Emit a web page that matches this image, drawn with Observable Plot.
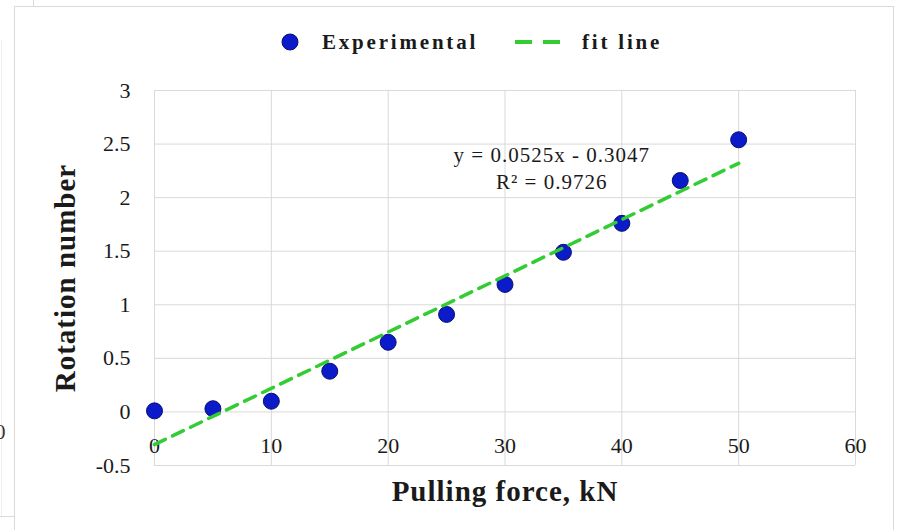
<!DOCTYPE html>
<html>
<head>
<meta charset="utf-8">
<script src="https://cdn.jsdelivr.net/npm/d3@7"></script>
<script src="https://cdn.jsdelivr.net/npm/@observablehq/plot@0.6"></script>
<style>
  html, body { margin: 0; padding: 0; background: #fff; }
  #wrap { position: relative; width: 897px; height: 530px; overflow: hidden; font-family: "Liberation Serif", "Times New Roman", serif; color: #1a1a1a; }
  .deco { position: absolute; background: #d9d9d9; }
  #legend { position: absolute; left: 0; top: 0; width: 897px; height: 70px; }
  #legend .item { position: absolute; top: 42px; transform: translateY(-50%); font-weight: bold; font-size: 21px; letter-spacing: 2.8px; white-space: nowrap; }
  #chart { position: absolute; left: 0; top: 70px; }
</style>
</head>
<body>
<div id="wrap">
  <div class="deco" style="left:14px; top:6px; width:879px; height:1px;"></div>
  <div class="deco" style="left:14px; top:6px; width:1px; height:530px;"></div>
  <div class="deco" style="left:893px; top:6px; width:1px; height:530px;"></div>
  <div class="deco" style="left:33px; top:0px; width:1px; height:6px;"></div>
  <div class="deco" style="left:1px; top:40px; width:1px; height:476px; background:#eeeeee;"></div>
  <div class="deco" style="left:0px; top:516px; width:14px; height:1px;"></div>
  <span style="position:absolute; left:-5px; top:420px; font-size:21px; color:#333;">0</span>
  <div id="legend"></div>
  <div id="chart"></div>
</div>
<script>
// Data
const forceKN = [0, 5, 10, 15, 20, 25, 30, 35, 40, 45, 50];
const rotation = [0.01, 0.03, 0.10, 0.38, 0.65, 0.91, 1.19, 1.49, 1.76, 2.16, 2.54];
const xTicks = [0, 10, 20, 30, 40, 50, 60];
const yTicks = [-0.5, 0, 0.5, 1, 1.5, 2, 2.5, 3];
const fitSlope = 0.0525;
const fitIntercept = -0.3047;
const fitRange = [0, 50];
const equationText = "y = 0.0525x - 0.3047\nR² = 0.9726";
const equationAt = {x: 34, y: 2.285};
const seriesNames = ["Experimental", "fit line"];
const xTitle = "Pulling force, kN";
const yTitle = "Rotation number";

const points = forceKN.map((x, i) => ({x, y: rotation[i]}));
const fitPts = fitRange.map(x => ({x, y: fitSlope * x + fitIntercept}));

const dotFill = "#0b1bc9";
const dotStroke = "#08106e";
const fitColor = "#33cc33";
const gridColor = "#d9d9d9";

// Legend (HTML, above the SVG)
const legend = document.getElementById("legend");
legend.innerHTML = `
  <svg style="position:absolute; left:281px; top:33px;" width="18" height="18"><circle cx="9" cy="9" r="8" fill="${dotFill}" stroke="${dotStroke}" stroke-width="1"/></svg>
  <span class="item" style="left:322px;">${seriesNames[0]}</span>
  <svg style="position:absolute; left:515px; top:39px;" width="46" height="6"><line x1="0" y1="3" x2="46" y2="3" stroke="${fitColor}" stroke-width="4" stroke-dasharray="17,11"/></svg>
  <span class="item" style="left:582px;">${seriesNames[1]}</span>
`;

const chart = Plot.plot({
  width: 897,
  height: 460,
  marginTop: 20,
  marginBottom: 65,
  marginLeft: 154,
  marginRight: 42,
  style: {fontFamily: '"Liberation Serif", "Times New Roman", serif', fontSize: "22px", color: "#1a1a1a", background: "transparent"},
  x: {domain: [0, 60], ticks: xTicks, axis: null},
  y: {domain: [-0.5, 3], ticks: yTicks},
  marks: [
    Plot.gridX(xTicks, {stroke: gridColor, strokeOpacity: 1, strokeWidth: 1}),
    Plot.gridY(yTicks, {stroke: gridColor, strokeOpacity: 1, strokeWidth: 1}),
    Plot.axisY(yTicks, {tickSize: 0, tickPadding: 24, fontSize: 22, label: null, tickFormat: d => String(d)}),
    Plot.text(xTicks, {x: d => d, y: 0, dy: 34, text: d => String(d), fontSize: 22, textAnchor: "middle"}),
    Plot.dot(points, {x: "x", y: "y", r: 8, fill: dotFill, stroke: dotStroke, strokeWidth: 1}),
    Plot.line(fitPts, {x: "x", y: "y", stroke: fitColor, strokeWidth: 3.5, strokeDasharray: "12,8"}),
    Plot.text([equationText], {x: equationAt.x, y: equationAt.y, text: d => d, fontSize: 21, textAnchor: "middle", lineHeight: 1.25}),
    Plot.text([yTitle], {frameAnchor: "left", dx: -89, rotate: -90, text: d => d, fontSize: 29, fontWeight: "bold", textAnchor: "middle", lineAnchor: "middle"}),
    Plot.text([xTitle], {frameAnchor: "bottom", dy: 26, text: d => d, fontSize: 29, fontWeight: "bold", textAnchor: "middle", lineAnchor: "middle"})
  ]
});
// Slight letter spacing to match the reference's wide text rendering
d3.select(chart).selectAll("text").each(function() {
  const t = this.textContent;
  if (t === xTitle || t === yTitle) this.style.letterSpacing = "1px";
  else if (t.startsWith("y =") || t.startsWith("R²")) this.style.letterSpacing = "1px";
});
document.getElementById("chart").appendChild(chart);
</script>
</body>
</html>
